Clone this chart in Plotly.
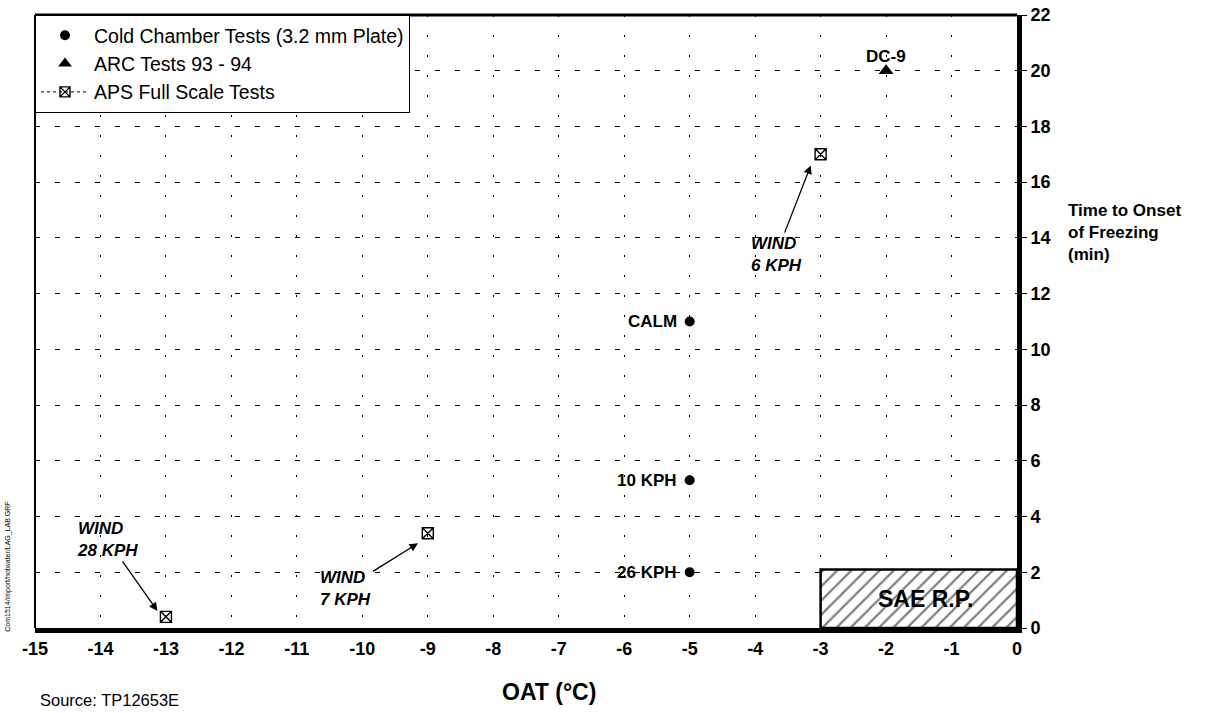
import plotly.graph_objects as go

# ---- data ----
cold_x = [-5, -5, -5]
cold_y = [11, 5.3, 2]
cold_labels = ["CALM", "10 KPH", "26 KPH"]

arc_x = [-2]
arc_y = [20]
arc_labels = ["DC-9"]

aps_x = [-13, -9, -3]
aps_y = [0.4, 3.4, 17]

sae_x = [-3, 0]
sae_y = [0, 2.1]

x_ticks = list(range(-15, 1))
y_ticks = list(range(0, 23, 2))

FONT = "Liberation Sans, Arial, sans-serif"

fig = go.Figure()

# SAE R.P. hatched region
fig.add_trace(go.Scatter(
    x=[sae_x[0], sae_x[1], sae_x[1], sae_x[0], sae_x[0]],
    y=[sae_y[0], sae_y[0], sae_y[1], sae_y[1], sae_y[0]],
    mode="lines", fill="toself", fillcolor="white",
    fillpattern=dict(shape="/", fgcolor="black", bgcolor="white", size=10, solidity=0.22),
    line=dict(color="black", width=2.5), showlegend=False, hoverinfo="skip"))

fig.add_trace(go.Scatter(
    x=cold_x, y=cold_y, mode="markers",
    marker=dict(symbol="circle", size=10, color="black"),
    showlegend=False))
fig.add_trace(go.Scatter(
    x=arc_x, y=arc_y, mode="markers",
    marker=dict(symbol="triangle-up", size=13, color="black"),
    showlegend=False))
fig.add_trace(go.Scatter(
    x=aps_x, y=aps_y, mode="markers",
    marker=dict(symbol="square-x-open", size=11, color="black", line=dict(width=1.4)),
    showlegend=False))

# legend entries
fig.add_trace(go.Scatter(x=[None], y=[None], mode="markers", name="Cold Chamber Tests (3.2 mm Plate)",
                         marker=dict(symbol="circle", size=10, color="black"), legendgroup="a"))
fig.add_trace(go.Scatter(x=[None], y=[None], mode="markers", name="ARC Tests 93 - 94",
                         marker=dict(symbol="triangle-up", size=12, color="black"), legendgroup="b"))
fig.add_trace(go.Scatter(x=[None], y=[None], mode="lines+markers", name="APS Full Scale Tests",
                         line=dict(color="black", width=1, dash="dot"),
                         marker=dict(symbol="square-x-open", size=10, color="black", line=dict(width=1.4)),
                         legendgroup="c"))

lab_font = dict(family=FONT, size=17, color="black")
annotations = []
for xv, yv, t in zip(cold_x, cold_y, cold_labels):
    annotations.append(dict(x=xv, y=yv, xref="x", yref="y", text=f"<b>{t}</b>", showarrow=False,
                            xanchor="right", yanchor="middle", xshift=-11, font=lab_font))
for xv, yv, t in zip(arc_x, arc_y, arc_labels):
    annotations.append(dict(x=xv, y=yv, xref="x", yref="y", text=f"<b>{t}</b>", showarrow=False,
                            xanchor="center", yanchor="middle", yshift=14, font=lab_font))

ann_font = dict(family=FONT, size=17, color="black")
arrow_style = dict(showarrow=True, arrowhead=2, arrowsize=1.3, arrowwidth=1.3, arrowcolor="black",
                   axref="x", ayref="y", xref="x", yref="y", font=ann_font, align="left")
annotations += [
    dict(x=-3.15, y=16.6, ax=-3.68, ay=13.4, text="<b><i>WIND<br>6 KPH</i></b>", **arrow_style),
    dict(x=-9.15, y=3.04, ax=-10.25, ay=1.43, text="<b><i>WIND<br>7 KPH</i></b>", **arrow_style),
    dict(x=-13.13, y=0.61, ax=-13.9, ay=3.18, text="<b><i>WIND<br>28 KPH</i></b>", **arrow_style),
    dict(x=-1.4, y=1.04, xref="x", yref="y", text="<b>SAE R.P.</b>", showarrow=False,
         font=dict(family=FONT, size=23, color="black")),
    dict(x=0, y=0, xref="paper", yref="paper", text="Source: TP12653E", showarrow=False,
         xanchor="left", yanchor="middle", xshift=3, yshift=-72,
         font=dict(family=FONT, size=16.5, color="black")),
    dict(x=0.523, y=0, xref="paper", yref="paper", text="<b>OAT (°C)</b>", showarrow=False,
         xanchor="center", yanchor="middle", yshift=-64, font=dict(family=FONT, size=23, color="black")),
    dict(x=1.0, y=0.70, xref="paper", yref="paper", text="<b>Time to Onset<br>of Freezing<br>(min)</b>",
         showarrow=False, xanchor="left", yanchor="top", xshift=49, align="left",
         font=dict(family=FONT, size=17, color="black")),
    dict(x=0, y=0.10, xref="paper", yref="paper", text="Com1514/import/hotwater/LAG_LAB.GRF",
         showarrow=False, textangle=-90, xanchor="center", yanchor="middle", xshift=-27,
         font=dict(family=FONT, size=7, color="black")),
]

fig.update_layout(
    width=1219, height=713,
    margin=dict(l=35, r=202, t=15, b=85, autoexpand=False),
    paper_bgcolor="white", plot_bgcolor="white",
    font=dict(family=FONT, color="black"),
    annotations=annotations,
    legend=dict(x=0, y=1, xanchor="left", yanchor="top", bgcolor="white",
                bordercolor="black", borderwidth=1, traceorder="grouped", tracegroupgap=0,
                font=dict(family=FONT, size=19.5, color="black"), itemwidth=48),
    shapes=[
        dict(type="line", xref="paper", yref="paper", x0=0, x1=1, y0=1, y1=1,
             line=dict(color="black", width=3)),
        dict(type="line", xref="paper", yref="paper", x0=0, x1=0, y0=0, y1=1,
             line=dict(color="black", width=2)),
    ],
)

fig.update_xaxes(range=[-15, 0], tickvals=x_ticks, ticktext=[f"<b>{v}</b>" for v in x_ticks],
                 showgrid=True, gridcolor="black", gridwidth=1, griddash="2px,18px",
                 showline=True, linecolor="black", linewidth=5, zeroline=False, automargin=False,
                 ticks="", tickfont=dict(family=FONT, size=18, color="black"))
fig.update_yaxes(range=[0, 22], tickvals=y_ticks, ticktext=[f"<b>{v}</b>" for v in y_ticks],
                 side="right", showgrid=True, gridcolor="black", gridwidth=1, griddash="5px,15px",
                 showline=True, linecolor="black", linewidth=5, zeroline=False, automargin=False,
                 ticks="outside", ticklen=5, tickwidth=1, tickcolor="black",
                 tickfont=dict(family=FONT, size=18, color="black"))

fig.write_html("out.html", config={"displayModeBar": False},
               post_script="document.body.style.margin='0';")
